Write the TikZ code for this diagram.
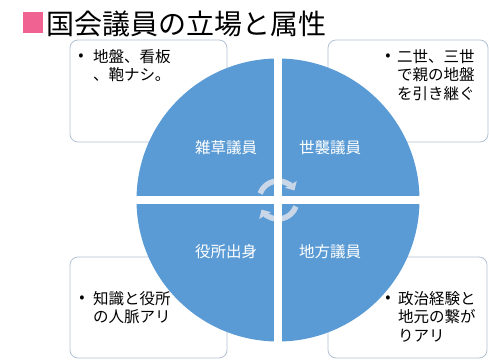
\documentclass[tikz,border=0pt]{standalone}
\usepackage{fontspec}
\setmainfont{Noto Sans CJK JP}
\usetikzlibrary{arrows.meta}
\definecolor{wheelblue}{RGB}{91,155,213}
\definecolor{boxline}{RGB}{178,194,212}
\definecolor{turngray}{RGB}{200,214,232}
\definecolor{titlepink}{RGB}{240,98,146}

\begin{document}
\begin{tikzpicture}[x=1pt,y=1pt,
  notebox/.style={draw=boxline, line width=0.8pt, rounded corners=8pt},
  notetext/.style={anchor=north west, align=left, inner sep=0pt, font=\fontsize{15.5}{18.5}\selectfont},
  dot/.style={inner sep=0pt, font=\fontsize{15.5}{18.5}\selectfont},
  quadlabel/.style={text=white, inner sep=0pt, font=\fontsize{15.5}{18.5}\selectfont},
  turn/.style={draw=turngray, line width=5.5pt, -{Triangle[width=13pt,length=7pt]}},
  gap/.style={draw=white, line width=8pt, shorten <=-2pt, shorten >=-2pt}]
\useasboundingbox (0,0) rectangle (489,361);
% title
\fill[titlepink] (23,328) rectangle (43,349);
\node[anchor=west, inner sep=0pt, font=\fontsize{28}{30}\selectfont] (title) at (46,337) {国会議員の立場と属性};
% boxes, behind the circle
\draw[notebox] (70,219) rectangle (227,321);
\draw[notebox] (328,219) rectangle (488,321);
\draw[notebox] (70,3) rectangle (227,104);
\draw[notebox] (328,3) rectangle (487,104);
% circle
\node[circle, fill=wheelblue, minimum size=283pt, inner sep=0pt] (wheel) at (278,161) {};
\coordinate (hub) at (wheel.center);
\draw[turn] (hub) ++(160:19) arc[start angle=160, end angle=30, radius=19];
\draw[turn] (hub) ++(-20:19) arc[start angle=-20, end angle=-150, radius=19];
\draw[gap] (wheel.north) -- (wheel.south);
\draw[gap] (wheel.west) -- (wheel.east);
\node[quadlabel] (zasso) at (226,213) {雑草議員};
\node[quadlabel] (seshu) at (330,213) {世襲議員};
\node[quadlabel] (yakusho) at (226,109) {役所出身};
\node[quadlabel] (chiho) at (330,109) {地方議員};
% notes
\node[dot] (dotA) at (81,304) {•};
\node[notetext] (textA) at (93,312) {地盤、看板\\、鞄ナシ。};
\node[dot] (dotB) at (388,304) {•};
\node[notetext] (textB) at (397,312) {二世、三世\\で親の地盤\\を引き継ぐ};
\node[dot] (dotC) at (82,62) {•};
\node[notetext] (textC) at (93,70) {知識と役所\\の人脈アリ};
\node[dot] (dotD) at (388,62) {•};
\node[notetext] (textD) at (398,70) {政治経験と\\地元の繋が\\りアリ};
\end{tikzpicture}
\end{document}
